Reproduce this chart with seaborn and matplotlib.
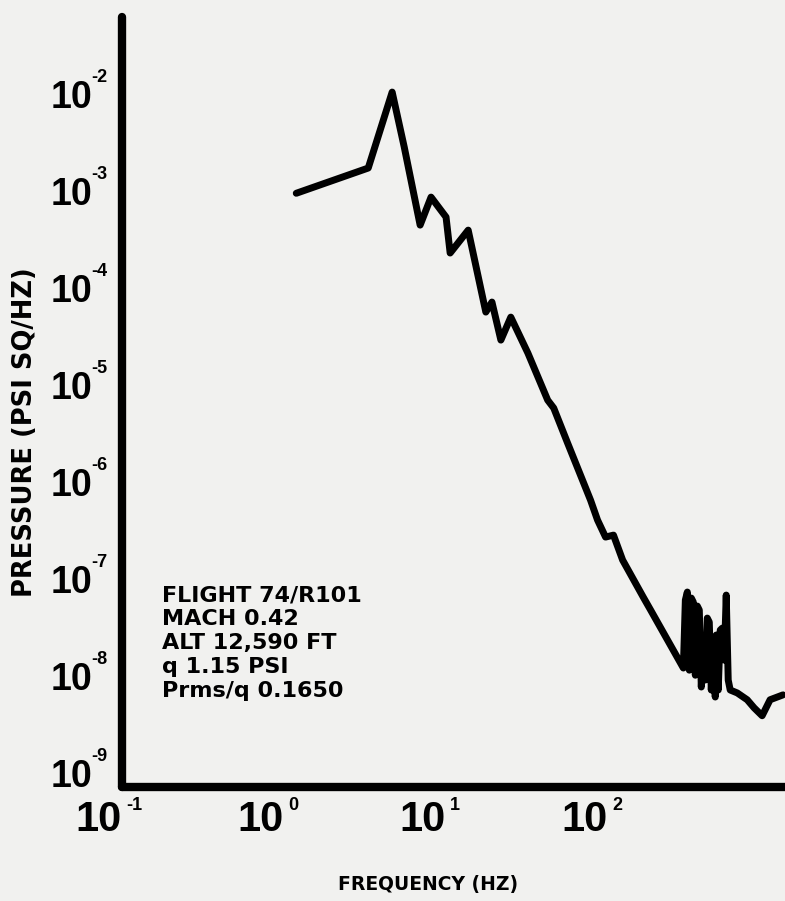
import matplotlib
matplotlib.use("Agg")
import matplotlib.pyplot as plt
from matplotlib.ticker import NullLocator
import pandas as pd
import seaborn as sns

# ---- data (frequency in Hz, PSD in psi^2/Hz) ----
freq_hz = [1.19, 3.31, 4.65, 5.52, 6.92, 8.08, 10.0, 10.6, 13.7, 17.6, 19.2,
           21.8, 25.1, 32.0, 42.4, 46.2, 56.3, 78.0, 86.1, 96.5, 108, 123,
           165, 183,
           291.5, 299.9, 308.5, 317.3, 326.4, 335.8, 345.6, 355.5, 365.7,
           376.2, 387.0, 398.1, 409.6, 421.4, 433.5, 445.9, 458.7, 465.3,
           478.6, 492.4, 506.6, 521.2, 536.1, 551.5, 567.4,
           627, 722, 797, 893, 1000, 1202]
psd = [9.5e-4, 1.73e-3, 1.05e-2, 2.85e-3, 4.46e-4, 8.67e-4, 5.4e-4, 2.3e-4,
       3.96e-4, 5.66e-5, 7.18e-5, 2.91e-5, 5.02e-5, 2.14e-5, 7.0e-6, 5.8e-6,
       2.52e-6, 6.5e-7, 4.06e-7, 2.71e-7, 2.84e-7, 1.57e-7, 6.5e-8, 4.8e-8,
       1.21e-8, 6.08e-8, 7.35e-8, 1.15e-8, 6.37e-8, 5.79e-8, 1.02e-8,
       5.27e-8, 4.79e-8, 7.71e-9, 2.35e-8, 9.1e-9, 3.96e-8, 3.6e-8, 7.18e-9,
       1.85e-8, 6.08e-9, 2.65e-8, 7.18e-9, 2.98e-8, 3.12e-8, 1.46e-8,
       6.84e-8, 9.1e-9, 7.18e-9,
       6.7e-9, 5.7e-9, 4.7e-9, 3.9e-9, 5.7e-9, 6.4e-9]

x_ticks = [0.1, 1, 10, 100]
x_exps = ["-1", "0", "1", "2"]
y_ticks = [1e-2, 1e-3, 1e-4, 1e-5, 1e-6, 1e-7, 1e-8, 1e-9]
y_exps = ["-2", "-3", "-4", "-5", "-6", "-7", "-8", "-9"]
info_lines = ["FLIGHT 74/R101", "MACH 0.42", "ALT 12,590 FT", "q 1.15 PSI",
              "Prms/q 0.1650"]
x_label = "FREQUENCY (HZ)"
y_label = "PRESSURE (PSI SQ/HZ)"

sns.set_style("white")
plt.rcParams["font.family"] = ["DejaVu Sans"]
plt.rcParams["text.color"] = "black"
plt.rcParams["xtick.color"] = "black"
plt.rcParams["ytick.color"] = "black"
plt.rcParams["axes.labelcolor"] = "black"
tick_family = ["Liberation Sans Narrow", "Liberation Sans", "DejaVu Sans"]

bg = "#f1f1ef"
fig = plt.figure(figsize=(7.85, 9.01), dpi=100, facecolor=bg)
ax = fig.add_axes([0.1554, 0.1265, 0.8446, 0.8545])
ax.set_facecolor(bg)

df = pd.DataFrame({"freq": freq_hz, "psd": psd})
sns.lineplot(data=df, x="freq", y="psd", ax=ax, color="black", lw=5,
             sort=False, estimator=None)
for ln in ax.lines:
    ln.set_solid_joinstyle("round")
    ln.set_solid_capstyle("round")

ax.set_xscale("log")
ax.set_yscale("log")
ax.set_xlim(10 ** -0.988, 10 ** 3.092)
ax.set_ylim(10 ** -9.144, 10 ** -1.206)
ax.set_xlabel("")
ax.set_ylabel("")
ax.grid(False)

for s in ["top", "right"]:
    ax.spines[s].set_visible(False)
for s in ["left", "bottom"]:
    ax.spines[s].set_linewidth(6)
    ax.spines[s].set_color("black")
    ax.spines[s].set_capstyle("round")

ax.set_xticks(x_ticks)
ax.set_xticklabels(["10"] * len(x_ticks))
ax.set_yticks(y_ticks)
ax.set_yticklabels(["10"] * len(y_ticks))
ax.xaxis.set_minor_locator(NullLocator())
ax.yaxis.set_minor_locator(NullLocator())

ax.tick_params(axis="x", direction="in", length=4, width=4, pad=9,
               colors="black")
ax.tick_params(axis="y", direction="out", length=3, width=6, pad=18,
               colors="black")
for lab in ax.get_xticklabels():
    lab.set_fontfamily(tick_family)
    lab.set_fontweight("bold")
    lab.set_fontsize(30)
    lab.set_ha("right")
    lab.set_color("black")
for lab in ax.get_yticklabels():
    lab.set_fontfamily(tick_family)
    lab.set_fontweight("bold")
    lab.set_fontsize(27)
    lab.set_color("black")

for t, e in zip(x_ticks, x_exps):
    ax.annotate(e, xy=(t, 0), xycoords=ax.get_xaxis_transform(),
                xytext=(3, -16.5), textcoords="offset points", ha="left",
                va="baseline", fontsize=13, fontweight="bold", color="black",
                family=tick_family, annotation_clip=False)
for t, e in zip(y_ticks, y_exps):
    ax.annotate(e, xy=(0, t), xycoords=ax.get_yaxis_transform(),
                xytext=(-22, 8.6), textcoords="offset points", ha="left",
                va="baseline", fontsize=13, fontweight="bold", color="black",
                family=tick_family, annotation_clip=False)

ax.text(0.0603, 0.2623, "\n".join(info_lines), transform=ax.transAxes,
        ha="left", va="top", fontsize=16, fontweight="bold",
        linespacing=1.25, color="black")

fig.text(0.545, 0.0178, x_label, ha="center", va="center", fontsize=13.5,
         fontweight="bold", color="black")
fig.text(0.032, 0.5205, y_label, ha="center", va="center", rotation=90,
         fontsize=18.5, fontweight="bold", color="black")

fig.savefig("out.png", dpi=100, facecolor=bg)
